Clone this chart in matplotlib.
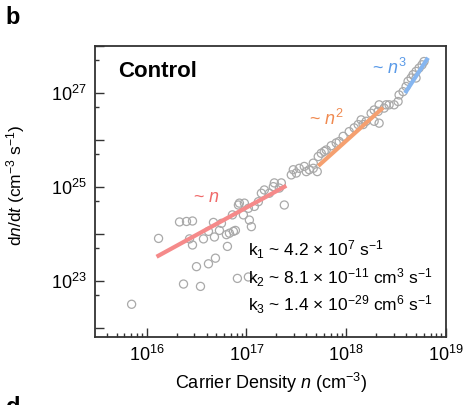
import numpy as np
import matplotlib
matplotlib.use("Agg")
import matplotlib.pyplot as plt
from matplotlib.ticker import LogLocator, FuncFormatter, NullFormatter

plt.rcParams["font.family"] = ["Liberation Sans", "DejaVu Sans"]
plt.rcParams["mathtext.fontset"] = "custom"
plt.rcParams["mathtext.rm"] = "Liberation Sans"
plt.rcParams["mathtext.it"] = "Liberation Sans:italic"
plt.rcParams["mathtext.bf"] = "Liberation Sans:bold"

# Measured recombination rate vs carrier density (log10 values)
log_n = [15.85, 16.12, 16.33, 16.40, 16.46, 16.43, 16.46, 16.57, 16.62, 16.67,
         16.68, 16.75, 16.73, 16.80, 16.81, 16.83, 16.89, 16.86, 16.92, 16.69,
         16.62, 16.50, 16.37, 16.54, 16.91, 17.02, 16.87, 16.93, 16.98, 17.02,
         16.97, 17.03, 17.05, 17.08, 17.12, 17.15, 17.18, 17.23, 17.27, 17.28,
         17.33, 17.35, 17.38, 17.45, 17.47, 17.50, 17.53, 17.58, 17.60, 17.63,
         17.67, 17.71, 17.72, 17.75, 17.80, 17.85, 17.90, 17.67, 17.78, 17.93,
         17.97, 18.03, 18.08, 18.12, 18.15, 18.17, 18.20, 18.25, 18.28, 18.32,
         18.33, 18.38, 18.40, 18.33, 18.28, 18.43, 18.48, 18.52, 18.53, 18.57,
         18.60, 18.62, 18.65, 18.67, 18.70, 18.73, 18.76, 18.78, 18.70]
log_rate = [22.51, 23.91, 24.26, 24.27, 24.28, 23.90, 23.77, 23.90, 24.06, 24.25,
            23.94, 24.23, 24.08, 23.99, 23.74, 24.02, 24.08, 24.41, 24.62, 23.49,
            23.37, 23.31, 22.94, 22.89, 23.06, 23.09, 24.06, 24.66, 24.66, 24.55,
            24.41, 24.30, 24.16, 24.59, 24.69, 24.87, 24.94, 24.87, 25.01, 25.09,
            24.98, 25.09, 24.62, 25.26, 25.37, 25.30, 25.40, 25.44, 25.33, 25.37,
            25.40, 25.33, 25.65, 25.72, 25.79, 25.88, 25.94, 25.51, 25.76, 25.97,
            26.08, 26.18, 26.26, 26.33, 26.43, 26.33, 26.40, 26.57, 26.40, 26.61,
            26.75, 26.68, 26.75, 26.36, 26.64, 26.75, 26.75, 26.82, 26.96, 27.03,
            27.14, 27.25, 27.32, 27.39, 27.46, 27.53, 27.60, 27.67, 27.32]

# Power-law guide segments (log10 endpoints)
fit1_n, fit1_rate = [16.10, 17.40], [23.52, 25.03]
fit2_n, fit2_rate = [17.72, 18.37], [25.45, 26.69]
fit3_n, fit3_rate = [18.59, 18.82], [27.00, 27.75]

rate_constants = [
    r"k$_1$ ~ 4.2 $\times$ 10$^{7}$ s$^{-1}$",
    r"k$_2$ ~ 8.1 $\times$ 10$^{-11}$ cm$^{3}$ s$^{-1}$",
    r"k$_3$ ~ 1.4 $\times$ 10$^{-29}$ cm$^{6}$ s$^{-1}$",
]

c_red, c_orange, c_blue = "#f58a8a", "#f5a070", "#86b6f0"
t_red, t_orange, t_blue = "#f06a6a", "#f08a50", "#5a9ae8"

fig = plt.figure(figsize=(4.67, 4.05), dpi=100)
ax = fig.add_axes([0.2034, 0.168, 0.7516, 0.7184])

n = 10 ** np.array(log_n)
r = 10 ** np.array(log_rate)
ax.scatter(n, r, s=34, facecolors="none", edgecolors="#a9a9a9",
           linewidths=0.9, zorder=2)

for fn, fr, col in [(fit1_n, fit1_rate, c_red),
                    (fit2_n, fit2_rate, c_orange),
                    (fit3_n, fit3_rate, c_blue)]:
    ax.plot(10 ** np.array(fn), 10 ** np.array(fr), color=col, lw=3.0,
            solid_capstyle="butt", zorder=3)

ax.set_xscale("log")
ax.set_yscale("log")
ax.set_xlim(10 ** 15.483, 1e19)
ax.set_ylim(10 ** 21.815, 1e28)

ax.xaxis.set_major_locator(LogLocator(base=10, numticks=20))
ax.xaxis.set_minor_locator(LogLocator(base=10, subs=np.arange(2, 10), numticks=20))
ax.xaxis.set_minor_formatter(NullFormatter())
ax.yaxis.set_major_locator(LogLocator(base=10, numticks=20))
ax.yaxis.set_minor_locator(LogLocator(base=10, subs=[5], numticks=20))
ax.yaxis.set_minor_formatter(NullFormatter())


def odd_decades(v, pos):
    e = int(round(np.log10(v)))
    return r"10$^{%d}$" % e if e % 2 == 1 else ""


ax.yaxis.set_major_formatter(FuncFormatter(odd_decades))
ax.xaxis.set_major_formatter(FuncFormatter(lambda v, p: r"10$^{%d}$" % int(round(np.log10(v)))))

ax.tick_params(which="both", direction="in", labelsize=13, width=1.0,
               top=False, right=False, color="#333333")
ax.tick_params(which="major", length=6.5, pad=6)
ax.tick_params(which="minor", length=3)
for s in ax.spines.values():
    s.set_linewidth(1.3)
    s.set_color("#333333")

ax.set_xlabel(r"Carrier Density $\it{n}$ (cm$^{-3}$)", fontsize=13, labelpad=4)
ax.set_ylabel(r"d$\it{n}$/d$\it{t}$ (cm$^{-3}$ s$^{-1}$)", fontsize=12.5)
ax.yaxis.set_label_coords(-0.195, 0.52)

ax.text(0.0655, 0.912, "Control", transform=ax.transAxes, fontsize=16,
        fontweight="bold", va="center", ha="left")

ax.text(10 ** 16.60, 10 ** 24.77, r"~ $\it{n}$", color=t_red, fontsize=13,
        ha="center", va="center")
ax.text(10 ** 17.80, 10 ** 26.46, r"~ $\it{n}^2$", color=t_orange, fontsize=13,
        ha="center", va="center")
ax.text(10 ** 18.43, 10 ** 27.54, r"~ $\it{n}^3$", color=t_blue, fontsize=13,
        ha="center", va="center")

for i, txt in enumerate(rate_constants):
    ax.text(0.435, 0.299 - i * 0.0945, txt, transform=ax.transAxes,
            fontsize=12.5, ha="left", va="center")

fig.text(0.012, 0.985, "b", fontsize=17, fontweight="bold", va="top", ha="left")
fig.text(0.012, 0.022, "d", fontsize=17, fontweight="bold", va="top", ha="left")

fig.savefig("out.png", dpi=100)
